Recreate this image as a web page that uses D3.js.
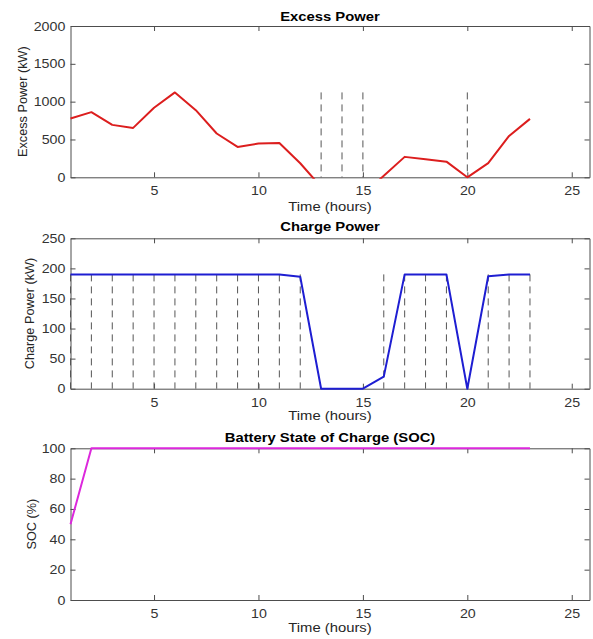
<!DOCTYPE html>
<html>
<head>
<meta charset="utf-8">
<script src="https://cdn.jsdelivr.net/npm/d3@7"></script>
<style>
  body { margin: 0; background: #fff; }
  svg text { font-family: "Liberation Sans", Arial, Helvetica, sans-serif; }
</style>
</head>
<body>
<svg id="chart" width="593" height="639"></svg>
<script>
// Hourly battery dispatch data
const hours = [1, 2, 3, 4, 5, 6, 7, 8, 9, 10, 11, 12, 13, 14, 15, 16, 17, 18, 19, 20, 21, 22, 23];
const excessPower = [777, 861, 693, 653, 920, 1122, 887, 579, 401, 446, 454, 186, -128, -200, -230, 20, 270, 240, 207, 0, 187, 547, 772];
const chargePower = [190, 190, 190, 190, 190, 190, 190, 190, 190, 190, 190, 186, 0, 0, 0, 20, 190, 190, 190, 0, 187, 190, 190];
const socPercent = [50, 100, 100, 100, 100, 100, 100, 100, 100, 100, 100, 100, 100, 100, 100, 100, 100, 100, 100, 100, 100, 100, 100];

// Hours with no surplus vs. hours where the battery is charging
const deficitHours = [13, 14, 15, 20];
const chargingHours = [1, 2, 3, 4, 5, 6, 7, 8, 9, 10, 11, 12, 16, 17, 18, 19, 21, 22, 23];

// Axis limits and tick labels
const timeLimits = [1, 25.85];
const timeTicks = [5, 10, 15, 20, 25];
const excessTicks = [0, 500, 1000, 1500, 2000];
const chargeTicks = [0, 50, 100, 150, 200, 250];
const socTicks = [0, 20, 40, 60, 80, 100];

const svg = d3.select("#chart");
const left = 70.5, right = 589.5;
const stretch = 1.14;      // horizontal text stretch
const axisColor = "#4d4d4d";
const labelColor = "#262626";
const plain = d3.format("d");

const x = d3.scaleLinear().domain(timeLimits).range([left, right]);

function drawPanel(cfg, idx) {
  const y = d3.scaleLinear().domain(cfg.yDomain).range([cfg.bottom, cfg.top]);
  const g = svg.append("g");

  // axes first (ticks point inward, box on all four sides)
  const styleAxis = sel => {
    sel.select(".domain").attr("stroke", axisColor);
    sel.selectAll(".tick line").attr("stroke", axisColor);
    sel.selectAll(".tick text")
      .attr("fill", "#333")
      .style("font-size", "12.5px")
      .attr("transform", `scale(${stretch},1)`);
  };

  g.append("g").attr("transform", `translate(0,${cfg.bottom})`)
    .call(d3.axisBottom(x).tickValues(timeTicks).tickSizeInner(-5).tickSizeOuter(0).tickPadding(9).tickFormat(plain))
    .call(styleAxis);
  g.append("g").attr("transform", `translate(0,${cfg.top})`)
    .call(d3.axisTop(x).tickValues(timeTicks).tickSizeInner(-5).tickSizeOuter(0).tickFormat(""))
    .call(styleAxis);
  g.append("g").attr("transform", `translate(${left},0)`)
    .call(d3.axisLeft(y).tickValues(cfg.yTicks).tickSizeInner(-5).tickSizeOuter(0).tickPadding(4.5).tickFormat(plain))
    .call(styleAxis);
  g.append("g").attr("transform", `translate(${right},0)`)
    .call(d3.axisRight(y).tickValues(cfg.yTicks).tickSizeInner(-5).tickSizeOuter(0).tickFormat(""))
    .call(styleAxis);

  // clip data to the axes box (with room for the stroke)
  const clipId = "clip" + idx;
  svg.append("clipPath").attr("id", clipId)
    .append("rect")
    .attr("x", left - 1.5).attr("y", cfg.top - 1.5)
    .attr("width", right - left + 3).attr("height", cfg.bottom - cfg.top + 3);

  const plot = g.append("g").attr("clip-path", `url(#${clipId})`);

  // vertical dashed markers
  const dashTop = d3.max(cfg.values);
  plot.selectAll("line.marker").data(cfg.dashHours).join("line")
    .attr("class", "marker")
    .attr("x1", d => x(d)).attr("x2", d => x(d))
    .attr("y1", y(dashTop)).attr("y2", y(0))
    .attr("stroke", "#555")
    .attr("stroke-width", 1)
    .attr("stroke-dasharray", "7,5");

  // data line
  const line = d3.line().x((d, i) => x(hours[i])).y(d => y(d));
  plot.append("path")
    .datum(cfg.values)
    .attr("d", line)
    .attr("fill", "none")
    .attr("stroke", cfg.color)
    .attr("stroke-width", 2)
    .attr("stroke-linejoin", "round");

  // title
  g.append("text")
    .attr("transform", `translate(${(left + right) / 2},${cfg.titleY}) scale(${stretch},1)`)
    .attr("text-anchor", "middle")
    .style("font-size", "13px")
    .style("font-weight", "bold")
    .attr("fill", "#000")
    .text(cfg.title);

  // x label
  g.append("text")
    .attr("transform", `translate(${(left + right) / 2},${cfg.xLabelY}) scale(${stretch},1)`)
    .attr("text-anchor", "middle")
    .style("font-size", "13px")
    .attr("fill", labelColor)
    .text("Time (hours)");

  // y label
  g.append("text")
    .attr("transform", `translate(${cfg.yLabelX},${(cfg.top + cfg.bottom) / 2}) rotate(-90)`)
    .attr("text-anchor", "middle")
    .style("font-size", "12.7px")
    .attr("fill", labelColor)
    .text(cfg.yLabel);
}

const panels = [
  { top: 26, bottom: 177.3, yDomain: [0, 2000], yTicks: excessTicks, values: excessPower,
    color: "#dc1e1e", dashHours: deficitHours, title: "Excess Power", yLabel: "Excess Power (kW)",
    titleY: 20.5, xLabelY: 211, yLabelX: 27 },
  { top: 238.3, bottom: 388.7, yDomain: [0, 250], yTicks: chargeTicks, values: chargePower,
    color: "#1e1ed2", dashHours: chargingHours, title: "Charge Power", yLabel: "Charge Power (kW)",
    titleY: 231, xLabelY: 420, yLabelX: 34 },
  { top: 448.3, bottom: 600, yDomain: [0, 100], yTicks: socTicks, values: socPercent,
    color: "#dc28dc", dashHours: [], title: "Battery State of Charge (SOC)", yLabel: "SOC (%)",
    titleY: 442, xLabelY: 632, yLabelX: 36 }
];

panels.forEach(drawPanel);
</script>
</body>
</html>
